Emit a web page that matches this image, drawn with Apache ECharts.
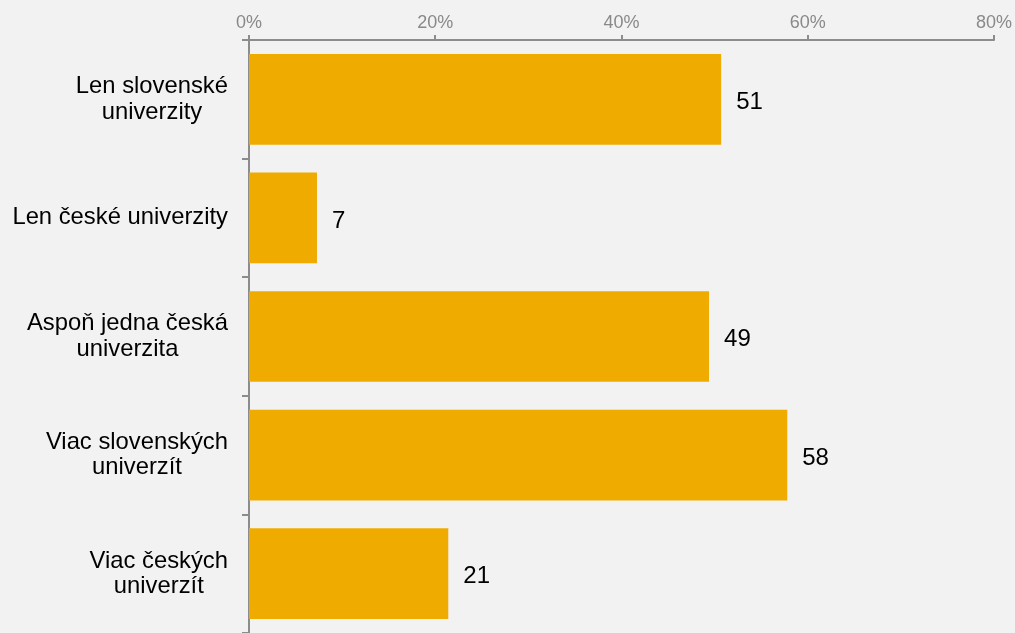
<!DOCTYPE html>
<html>
<head>
<meta charset="utf-8">
<script src="https://cdn.jsdelivr.net/npm/echarts@6/dist/echarts.min.js"></script>
<style>
html,body{margin:0;padding:0;background:#f2f2f2;}
#c{width:1015px;height:633px;}
</style>
</head>
<body>
<div id="c"></div>
<script>
const categories = [
  'Len slovenské\nuniverzity',
  'Len české univerzity',
  'Aspoň jedna česká\nuniverzita',
  'Viac slovenských\nuniverzít',
  'Viac českých\nuniverzít'
];
const values = [50.7, 7.3, 49.4, 57.8, 21.4];
const xTicks = [0, 20, 40, 60, 80];

const chart = echarts.init(document.getElementById('c'));
chart.setOption({
  backgroundColor: '#f2f2f2',
  animation: false,
  grid: { left: 249, right: 21, top: 40, height: 595, containLabel: false },
  xAxis: {
    type: 'value',
    position: 'top',
    min: xTicks[0],
    max: xTicks[xTicks.length - 1],
    interval: 20,
    axisLine: { show: true, lineStyle: { color: '#8c8c8c', width: 2 } },
    axisTick: { show: true, length: 5, lineStyle: { color: '#8c8c8c', width: 2 } },
    splitLine: { show: false },
    axisLabel: {
      formatter: v => v + '%',
      color: '#898989',
      fontSize: 18,
      fontFamily: 'Liberation Sans, Arial, sans-serif',
      margin: 8
    }
  },
  yAxis: {
    type: 'category',
    inverse: true,
    data: categories,
    axisLine: { show: true, lineStyle: { color: '#8c8c8c', width: 2 } },
    axisTick: { show: true, length: 7, lineStyle: { color: '#8c8c8c', width: 2 } },
    axisLabel: {
      margin: 21,
      align: 'right',
      formatter: v => v.split('\n').map(s => '{c|' + s + '}').join('\n'),
      rich: {
        c: {
          align: 'center',
          fontSize: 23.8,
          lineHeight: 25.5,
          color: '#000',
          fontFamily: 'Liberation Sans, Arial, sans-serif'
        }
      }
    }
  },
  series: [{
    type: 'bar',
    data: values,
    barCategoryGap: '23.5%',
    itemStyle: { color: '#f0ab00' },
    label: {
      show: true,
      position: 'right',
      distance: 15,
      offset: [0, 3],
      formatter: p => Math.round(p.value),
      color: '#000',
      fontSize: 24,
      fontFamily: 'Liberation Sans, Arial, sans-serif'
    }
  }]
});
</script>
</body>
</html>
